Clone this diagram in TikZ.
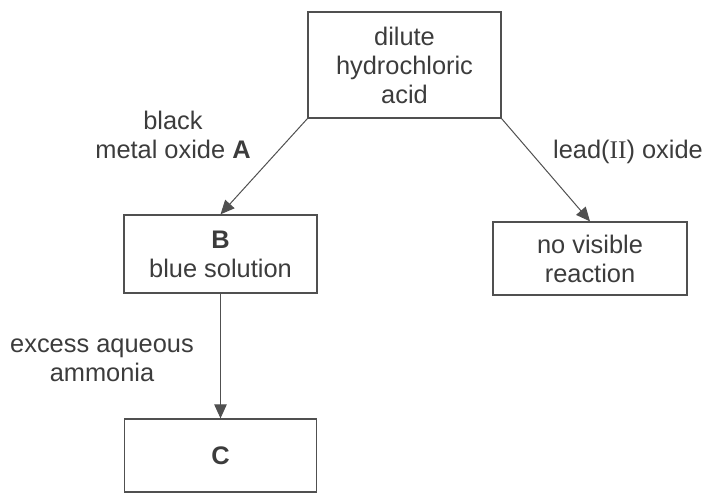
\documentclass[tikz,border=0pt]{standalone}
\usepackage{fontspec}
\setmainfont{Liberation Sans}
\newfontfamily\romanII{Liberation Serif}
\usetikzlibrary{arrows.meta}
\definecolor{ink}{HTML}{3C3C3C}
\definecolor{linec}{HTML}{505050}
\tikzset{
  box/.style={draw=linec, line width=1.3pt, text=ink, align=center, inner sep=0pt},
  lbl/.style={text=ink, align=center, inner sep=0pt},
  conn/.style={draw=linec, line width=1pt, -{Triangle[length=14pt,width=12.5pt]}},
}
\begin{document}
\begin{tikzpicture}[x=1pt,y=-1pt,font=\fontsize{25.4pt}{29pt}\selectfont]
\useasboundingbox (0,0) rectangle (706,493);
\node[box, minimum width=193pt, minimum height=106pt] (acid) at (404.5,65) {dilute\\hydrochloric\\acid};
\node[box, minimum width=193pt, minimum height=78pt] (B) at (220.5,254) {\textbf{B}\\blue solution};
\node[box, minimum width=194pt, minimum height=73pt] (nvr) at (590,258.5) {no visible\\reaction};
\node[box, minimum width=192pt, minimum height=73pt] (C) at (220.5,455.5) {\textbf{C}};
\node[lbl] (la) at (173,135) {black\\metal oxide \textbf{A}};
\node[lbl] (lb) at (628,152) {lead({\romanII II}) oxide};
\node[lbl] (lc) at (102,360) {excess aqueous\\ammonia};
\draw[conn] (acid.south west) -- (B.north);
\draw[conn] (acid.south east) -- (nvr.north);
\draw[conn] (B.south) -- (C.north);
\end{tikzpicture}
\end{document}
